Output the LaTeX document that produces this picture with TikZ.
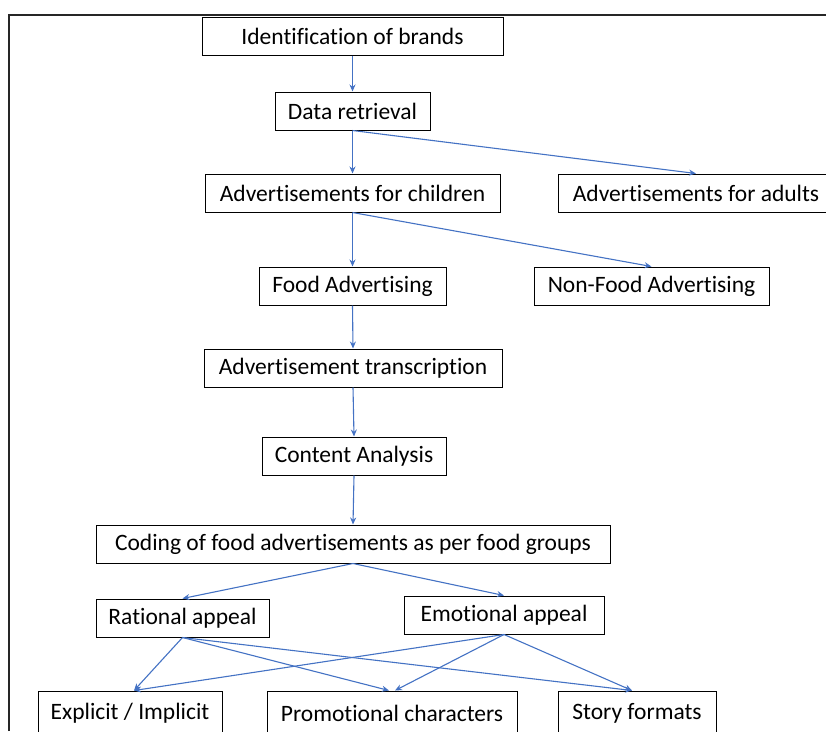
\documentclass[tikz,border=0pt]{standalone}
\usepackage{fontspec}
\setmainfont{Carlito}[RawFeature=-liga]
\usetikzlibrary{arrows.meta}
\definecolor{arrowblue}{HTML}{4472C4}
\tikzset{
  box/.style={draw=black, line width=1pt, fill=white, inner sep=0pt, align=center,
    font=\fontsize{23.5}{28}\selectfont},
  conn/.style={draw=arrowblue, line width=1.1pt, -{Stealth[length=7pt,width=6pt]}}
}
\begin{document}
\begin{tikzpicture}[x=1pt,y=-1pt]
\clip (0,0) rectangle (826,731);
\fill[white] (0,0) rectangle (826,731);
% frame
\draw[line width=2pt, black!85] (9,731) -- (9,15) -- (830,15);
% nodes
\node[box, minimum width=301pt, minimum height=38pt] (ident) at (352.5,36) {Identification of brands};
\node[box, minimum width=155pt, minimum height=38pt] (data) at (352.5,111) {Data retrieval};
\node[box, minimum width=295pt, minimum height=38pt] (child) at (352.5,193) {Advertisements for children};
\node[box, minimum width=276pt, minimum height=38pt] (adult) at (696,193) {Advertisements for adults};
\node[box, minimum width=187pt, minimum height=38pt] (food) at (352.5,286) {Food Advertising};
\node[box, minimum width=235pt, minimum height=38pt] (nonfood) at (651.5,286) {Non-Food Advertising};
\node[box, minimum width=298pt, minimum height=38pt] (trans) at (353,368) {Advertisement transcription};
\node[box, minimum width=184pt, minimum height=38pt] (content) at (354,456) {Content Analysis};
\node[box, minimum width=514pt, minimum height=38pt] (coding) at (353,544) {Coding of food advertisements as per food groups};
\node[box, minimum width=173pt, minimum height=38pt] (rational) at (182.5,618) {Rational appeal};
\node[box, minimum width=200pt, minimum height=38pt] (emotional) at (504,615) {Emotional appeal};
\node[box, minimum width=184pt, minimum height=44pt] (explicit) at (130,713) {Explicit / Implicit};
\node[box, minimum width=250pt, minimum height=44pt] (promo) at (392,713) {Promotional characters};
\node[box, minimum width=158pt, minimum height=44pt] (story) at (637,713) {Story formats};
% connectors
\draw[conn] (ident.south) -- (data.north);
\draw[conn] (data.south) -- (child.north);
\draw[conn] (data.south) -- (adult.north);
\draw[conn] (child.south) -- (food.north);
\draw[conn] (child.south) -- (nonfood.north);
\draw[conn] (food.south) -- (trans.north);
\draw[conn] (trans.south) -- (content.north);
\draw[conn] (content.south) -- (coding.north);
\draw[conn] (coding.south) -- (rational.north);
\draw[conn] (coding.south) -- (emotional.north);
\draw[conn] (rational.south) -- ([xshift=4pt]explicit.north);
\draw[conn] (rational.south) -- ([xshift=-3pt]promo.north);
\draw[conn] (rational.south) -- ([xshift=-5pt]story.north);
\draw[conn] (emotional.south) -- ([xshift=4pt]explicit.north);
\draw[conn] (emotional.south) -- ([xshift=3pt]promo.north);
\draw[conn] (emotional.south) -- ([xshift=-5pt]story.north);
\end{tikzpicture}
\end{document}
